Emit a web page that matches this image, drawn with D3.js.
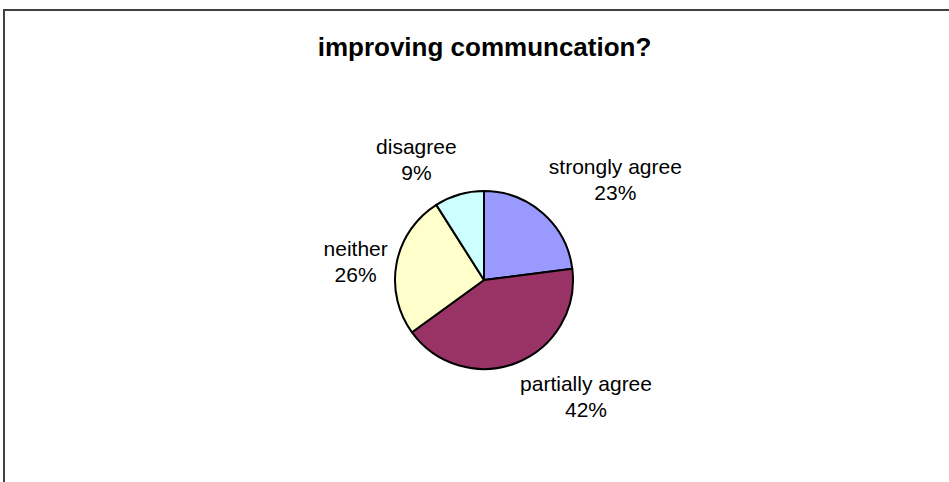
<!DOCTYPE html>
<meta charset="utf-8">
<script src="https://d3js.org/d3.v7.min.js"></script>
<style>
    body { margin: 0; background: #fff; }
    svg { display: block; font-family: Arial, "Liberation Sans", sans-serif; }
</style>
<div id="chart"></div>
<script>
    // data
    var categories = ["strongly agree", "partially agree", "neither", "disagree"];
    var values = [23, 42, 26, 9];
    var colors = ["#9999FF", "#993366", "#FFFFCC", "#CCFFFF"];
    var title = "improving communcation?";

    var width = 949, height = 482;
    var cx = 484, cy = 280, radius = 89;

    var svg = d3.select("#chart").append("svg")
        .attr("width", width)
        .attr("height", height);

    // outer chart frame (runs off the right and bottom of the picture)
    svg.append("rect")
        .attr("x", 4).attr("y", 10)
        .attr("width", 1000).attr("height", 1000)
        .attr("fill", "#fff")
        .attr("stroke", "#404040")
        .attr("stroke-width", 2);

    svg.append("text")
        .attr("x", 484.5)
        .attr("y", 56)
        .attr("text-anchor", "middle")
        .style("font-size", "26px")
        .style("font-weight", "bold")
        .text(title);

    var data = categories.map(function (c, i) { return { name: c, value: values[i], color: colors[i] } });
    var total = d3.sum(values);

    var pie = d3.pie().sort(null).value(d => d.value);
    var arc = d3.arc().innerRadius(0).outerRadius(radius);

    var g = svg.append("g").attr("transform", "translate(" + cx + "," + cy + ")");

    var arcs = pie(data);

    g.selectAll("path")
        .data(arcs)
        .enter()
        .append("path")
        .attr("d", arc)
        .attr("fill", d => d.data.color)
        .attr("stroke", "#000")
        .attr("stroke-width", 2)
        .attr("stroke-linejoin", "round");

    // labels: box sits just outside the rim, on the side the slice points to
    var fontSize = 21, lineH = 26, labelDist = radius + 9;
    var labels = g.selectAll("g.lbl")
        .data(arcs)
        .enter()
        .append("g")
        .attr("class", "lbl");

    labels.each(function (d) {
        var a = (d.startAngle + d.endAngle) / 2;
        var dx = Math.sin(a), dy = -Math.cos(a);
        var px = dx * labelDist, py = dy * labelDist;
        var sel = d3.select(this);
        var t = sel.append("text")
            .attr("text-anchor", "middle")
            .style("font-size", fontSize + "px")
            .attr("fill", "#000");
        t.append("tspan").attr("x", 0).attr("dy", 0).text(d.data.name);
        t.append("tspan").attr("x", 0).attr("dy", lineH)
            .text(Math.round(d.data.value / total * 100) + "%");
        var w = t.node().getBBox().width;
        var h = lineH * 2;
        var ox = px + (dx >= 0 ? 1 : -1) * w / 2;
        var oy = Math.abs(dy) < 0.3 ? py : py + (dy >= 0 ? 1 : -1) * h / 2;
        // first baseline sits about 20px under the box top
        t.attr("transform", "translate(" + ox + "," + (oy - h / 2 + 20) + ")");
    });
</script>
